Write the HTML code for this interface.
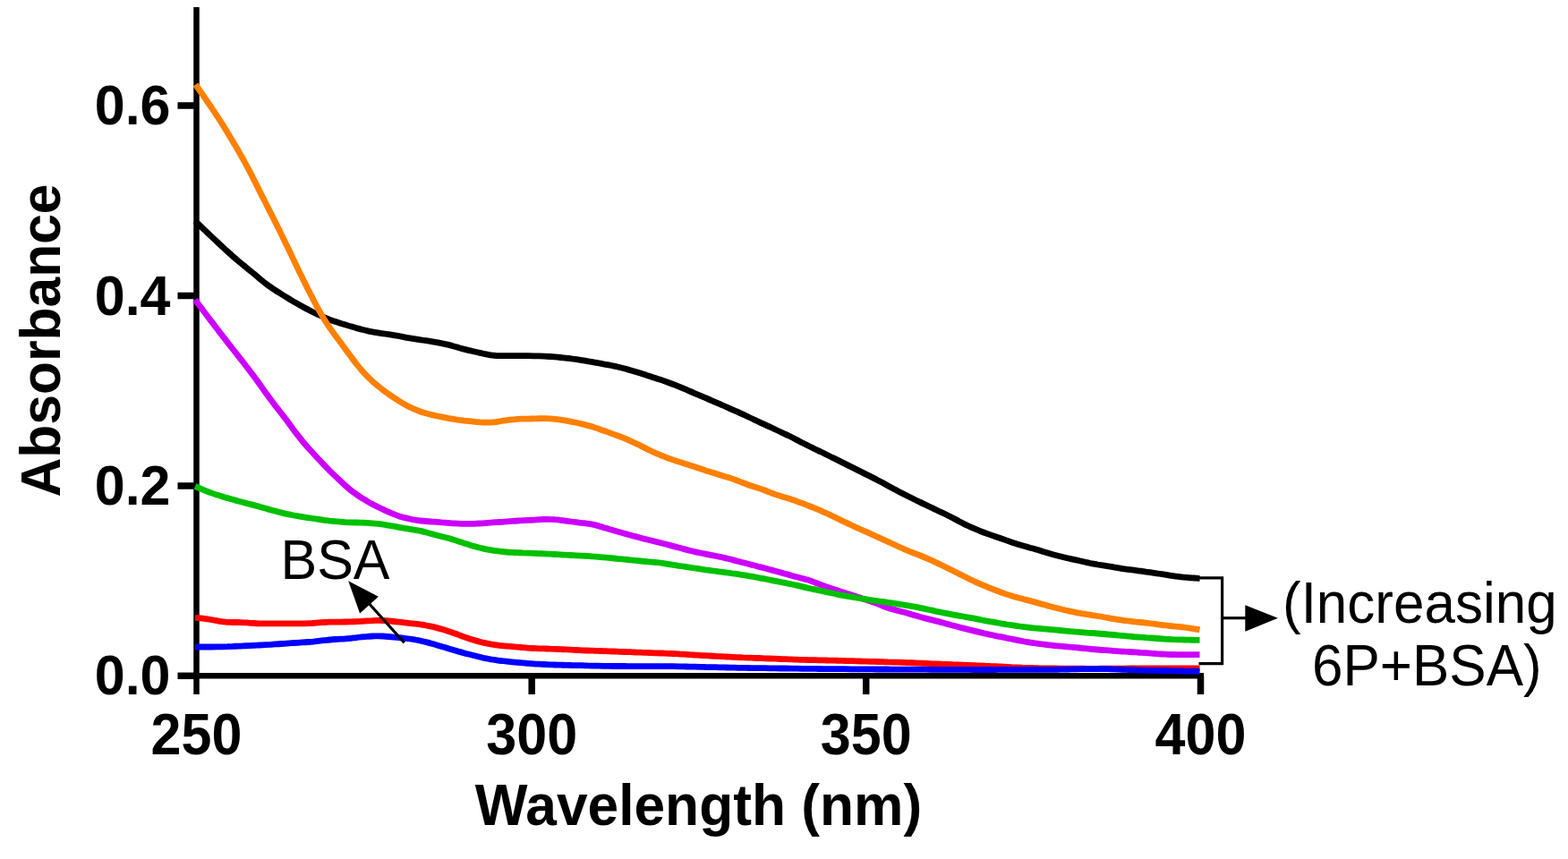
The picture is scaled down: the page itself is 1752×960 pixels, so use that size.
<!DOCTYPE html>
<html><head><meta charset="utf-8"><title>Absorbance spectra</title>
<style>
html,body{margin:0;padding:0;background:#fff;}
body{width:1752px;height:960px;overflow:hidden;}
svg{display:block;}
.tl{font-family:"Liberation Sans",Arial,sans-serif;font-weight:bold;font-size:61px;fill:#000;}
.ax{font-family:"Liberation Sans",Arial,sans-serif;font-weight:bold;font-size:61px;fill:#000;}
.rg{font-family:"Liberation Sans",Arial,sans-serif;font-weight:normal;font-size:60px;fill:#000;}
</style></head>
<body>
<svg width="1752" height="960" viewBox="0 0 1752 960">
<rect width="1752" height="960" fill="#fff"/>
<line x1="219.5" y1="8" x2="219.5" y2="776" stroke="#000" stroke-width="6.5"/>
<line x1="216.25" y1="755.3" x2="1345" y2="755.3" stroke="#000" stroke-width="6.5"/>
<line x1="198.5" y1="755.3" x2="219.5" y2="755.3" stroke="#000" stroke-width="7.5"/>
<text transform="translate(190.5,776.3) scale(1,1.045)" class="tl" text-anchor="end">0.0</text>
<line x1="198.5" y1="543.0" x2="219.5" y2="543.0" stroke="#000" stroke-width="7.5"/>
<text transform="translate(190.5,564.0) scale(1,1.045)" class="tl" text-anchor="end">0.2</text>
<line x1="198.5" y1="330.5" x2="219.5" y2="330.5" stroke="#000" stroke-width="7.5"/>
<text transform="translate(190.5,351.5) scale(1,1.045)" class="tl" text-anchor="end">0.4</text>
<line x1="198.5" y1="118.0" x2="219.5" y2="118.0" stroke="#000" stroke-width="7.5"/>
<text transform="translate(190.5,139.0) scale(1,1.045)" class="tl" text-anchor="end">0.6</text>
<text transform="translate(219.5,843.3) scale(1,1.062)" class="tl" text-anchor="middle">250</text>
<line x1="594.2" y1="755.3" x2="594.2" y2="776" stroke="#000" stroke-width="7.5"/>
<text transform="translate(594.2,843.3) scale(1,1.062)" class="tl" text-anchor="middle">300</text>
<line x1="967.7" y1="755.3" x2="967.7" y2="776" stroke="#000" stroke-width="7.5"/>
<text transform="translate(967.7,843.3) scale(1,1.062)" class="tl" text-anchor="middle">350</text>
<line x1="1341.5" y1="755.3" x2="1341.5" y2="776" stroke="#000" stroke-width="7.5"/>
<text transform="translate(1341.5,843.3) scale(1,1.062)" class="tl" text-anchor="middle">400</text>
<path d="M218.0,690.3 C219.0,690.4 222.0,690.7 224.0,690.9 C226.0,691.2 228.0,691.4 230.0,691.6 C232.0,691.9 234.0,692.2 236.0,692.5 C238.0,692.9 240.0,693.3 242.0,693.6 C244.0,694.0 246.0,694.4 248.0,694.7 C250.0,694.9 252.0,695.2 254.0,695.3 C256.0,695.4 258.0,695.4 260.0,695.5 C262.0,695.5 264.0,695.5 266.0,695.5 C268.0,695.6 270.0,695.7 272.0,695.8 C274.0,695.8 276.0,696.0 278.0,696.1 C280.0,696.3 282.0,696.4 284.0,696.5 C286.0,696.7 288.0,696.8 290.0,696.8 C292.0,696.9 294.0,696.9 296.0,696.9 C298.0,696.9 300.0,696.9 302.0,696.9 C304.0,696.9 306.0,696.9 308.0,696.9 C310.0,696.9 312.0,696.9 314.0,696.9 C316.0,696.9 318.0,696.9 320.0,696.9 C322.0,696.9 324.0,696.9 326.0,696.9 C328.0,696.9 330.0,696.9 332.1,696.9 C334.1,696.9 336.1,696.9 338.1,696.9 C340.1,696.8 342.1,696.8 344.1,696.7 C346.1,696.6 348.1,696.5 350.1,696.3 C352.1,696.2 354.1,696.0 356.1,695.9 C358.1,695.8 360.1,695.6 362.1,695.5 C364.1,695.4 366.1,695.3 368.1,695.2 C370.1,695.2 372.1,695.2 374.1,695.1 C376.1,695.1 378.1,695.1 380.1,695.1 C382.1,695.1 384.1,695.1 386.1,695.0 C388.1,695.0 390.1,695.0 392.1,694.9 C394.1,694.8 396.1,694.7 398.1,694.6 C400.1,694.5 402.1,694.4 404.1,694.3 C406.1,694.2 408.1,694.0 410.1,693.9 C412.1,693.8 414.1,693.6 416.1,693.6 C418.1,693.5 420.1,693.4 422.1,693.4 C424.1,693.4 426.1,693.4 428.1,693.5 C430.1,693.6 432.1,693.7 434.1,693.9 C436.1,694.1 438.1,694.3 440.1,694.5 C442.1,694.7 444.1,695.0 446.1,695.2 C448.1,695.5 450.1,695.7 452.1,695.9 C454.1,696.2 456.1,696.4 458.1,696.6 C460.1,696.8 462.1,697.0 464.1,697.2 C466.1,697.4 468.1,697.7 470.1,698.0 C472.1,698.2 474.1,698.6 476.1,699.0 C478.1,699.4 480.1,699.8 482.1,700.2 C484.1,700.6 486.1,701.1 488.1,701.6 C490.1,702.1 492.1,702.7 494.1,703.3 C496.1,703.9 498.1,704.5 500.1,705.2 C502.1,705.8 504.1,706.5 506.1,707.2 C508.1,707.9 510.1,708.6 512.1,709.4 C514.1,710.1 516.1,710.9 518.1,711.6 C520.1,712.3 522.1,713.0 524.1,713.7 C526.1,714.4 528.1,715.0 530.1,715.6 C532.1,716.1 534.1,716.7 536.1,717.2 C538.1,717.7 540.1,718.3 542.1,718.7 C544.1,719.1 546.1,719.5 548.1,719.9 C550.1,720.2 552.1,720.5 554.1,720.8 C556.2,721.1 558.2,721.4 560.2,721.6 C562.2,721.8 564.2,722.0 566.2,722.2 C568.2,722.4 570.2,722.6 572.2,722.7 C574.2,722.9 576.2,723.0 578.2,723.2 C580.2,723.3 582.2,723.5 584.2,723.6 C586.2,723.8 588.2,723.9 590.2,724.1 C592.2,724.2 594.2,724.4 596.2,724.5 C598.2,724.6 600.2,724.7 602.2,724.8 C604.2,724.8 606.2,724.9 608.2,724.9 C610.2,725.0 612.2,725.0 614.2,725.1 C616.2,725.1 618.2,725.2 620.2,725.3 C622.2,725.4 624.2,725.5 626.2,725.6 C628.2,725.7 630.2,725.8 632.2,725.9 C634.2,726.0 636.2,726.1 638.2,726.2 C640.2,726.3 642.2,726.4 644.2,726.5 C646.2,726.6 648.2,726.7 650.2,726.8 C652.2,726.8 654.2,726.9 656.2,727.0 C658.2,727.1 660.2,727.1 662.2,727.2 C664.2,727.3 666.2,727.3 668.2,727.4 C670.2,727.5 672.2,727.5 674.2,727.6 C676.2,727.7 678.2,727.7 680.2,727.8 C682.2,727.9 684.2,728.0 686.2,728.0 C688.2,728.1 690.2,728.2 692.2,728.3 C694.2,728.3 696.2,728.4 698.2,728.5 C700.2,728.6 702.2,728.7 704.2,728.7 C706.2,728.8 708.2,728.9 710.2,729.0 C712.2,729.0 714.2,729.1 716.2,729.2 C718.2,729.3 720.2,729.3 722.2,729.4 C724.2,729.5 726.2,729.5 728.2,729.6 C730.2,729.7 732.2,729.8 734.2,729.8 C736.2,729.9 738.2,730.0 740.2,730.0 C742.2,730.1 744.2,730.2 746.2,730.3 C748.2,730.3 750.2,730.4 752.2,730.5 C754.2,730.6 756.2,730.7 758.2,730.8 C760.2,731.0 762.2,731.1 764.2,731.2 C766.2,731.3 768.2,731.5 770.2,731.6 C772.2,731.7 774.2,731.8 776.2,732.0 C778.2,732.1 780.3,732.2 782.3,732.3 C784.3,732.5 786.3,732.6 788.3,732.7 C790.3,732.8 792.3,732.9 794.3,733.0 C796.3,733.1 798.3,733.2 800.3,733.4 C802.3,733.5 804.3,733.6 806.3,733.7 C808.3,733.8 810.3,733.9 812.3,734.0 C814.3,734.1 816.3,734.2 818.3,734.3 C820.3,734.4 822.3,734.5 824.3,734.6 C826.3,734.7 828.3,734.8 830.3,734.9 C832.3,734.9 834.3,735.0 836.3,735.1 C838.3,735.2 840.3,735.2 842.3,735.3 C844.3,735.4 846.3,735.5 848.3,735.5 C850.3,735.6 852.3,735.7 854.3,735.8 C856.3,735.8 858.3,735.9 860.3,736.0 C862.3,736.1 864.3,736.2 866.3,736.2 C868.3,736.3 870.3,736.4 872.3,736.5 C874.3,736.5 876.3,736.6 878.3,736.7 C880.3,736.8 882.3,736.8 884.3,736.9 C886.3,737.0 888.3,737.1 890.3,737.1 C892.3,737.2 894.3,737.3 896.3,737.3 C898.3,737.4 900.3,737.4 902.3,737.5 C904.3,737.5 906.3,737.6 908.3,737.6 C910.3,737.7 912.3,737.7 914.3,737.8 C916.3,737.8 918.3,737.9 920.3,737.9 C922.3,738.0 924.3,738.0 926.3,738.1 C928.3,738.1 930.3,738.1 932.3,738.2 C934.3,738.2 936.3,738.3 938.3,738.3 C940.3,738.4 942.3,738.4 944.3,738.5 C946.3,738.5 948.3,738.6 950.3,738.6 C952.3,738.7 954.3,738.7 956.3,738.8 C958.3,738.8 960.3,738.9 962.3,739.0 C964.3,739.0 966.3,739.1 968.3,739.1 C970.3,739.2 972.3,739.3 974.3,739.3 C976.3,739.4 978.3,739.4 980.3,739.5 C982.3,739.6 984.3,739.6 986.3,739.7 C988.3,739.8 990.3,739.8 992.3,739.9 C994.3,739.9 996.3,740.0 998.3,740.1 C1000.3,740.1 1002.3,740.2 1004.4,740.2 C1006.4,740.3 1008.4,740.4 1010.4,740.4 C1012.4,740.5 1014.4,740.6 1016.4,740.6 C1018.4,740.7 1020.4,740.8 1022.4,740.9 C1024.4,741.0 1026.4,741.1 1028.4,741.1 C1030.4,741.2 1032.4,741.3 1034.4,741.4 C1036.4,741.5 1038.4,741.6 1040.4,741.7 C1042.4,741.7 1044.4,741.8 1046.4,741.9 C1048.4,742.0 1050.4,742.1 1052.4,742.2 C1054.4,742.2 1056.4,742.3 1058.4,742.4 C1060.4,742.5 1062.4,742.6 1064.4,742.7 C1066.4,742.7 1068.4,742.8 1070.4,742.9 C1072.4,743.0 1074.4,743.1 1076.4,743.2 C1078.4,743.3 1080.4,743.3 1082.4,743.4 C1084.4,743.5 1086.4,743.6 1088.4,743.7 C1090.4,743.8 1092.4,743.9 1094.4,743.9 C1096.4,744.0 1098.4,744.1 1100.4,744.2 C1102.4,744.3 1104.4,744.4 1106.4,744.5 C1108.4,744.5 1110.4,744.6 1112.4,744.7 C1114.4,744.8 1116.4,744.9 1118.4,745.0 C1120.4,745.1 1122.4,745.2 1124.4,745.3 C1126.4,745.4 1128.4,745.5 1130.4,745.6 C1132.4,745.6 1134.4,745.7 1136.4,745.8 C1138.4,745.9 1140.4,746.0 1142.4,746.1 C1144.4,746.1 1146.4,746.2 1148.4,746.3 C1150.4,746.3 1152.4,746.4 1154.4,746.5 C1156.4,746.5 1158.4,746.6 1160.4,746.7 C1162.4,746.7 1164.4,746.8 1166.4,746.9 C1168.4,746.9 1170.4,747.0 1172.4,747.0 C1174.4,747.0 1176.4,747.0 1178.4,747.0 C1180.4,747.1 1182.4,747.1 1184.4,747.1 C1186.4,747.1 1188.4,747.1 1190.4,747.1 C1192.4,747.1 1194.4,747.1 1196.4,747.2 C1198.4,747.2 1200.4,747.2 1202.4,747.2 C1204.4,747.2 1206.4,747.2 1208.4,747.2 C1210.4,747.2 1212.4,747.3 1214.4,747.3 C1216.4,747.3 1218.4,747.3 1220.4,747.3 C1222.4,747.3 1224.4,747.3 1226.4,747.3 C1228.5,747.3 1230.5,747.2 1232.5,747.2 C1234.5,747.2 1236.5,747.2 1238.5,747.2 C1240.5,747.2 1242.5,747.2 1244.5,747.2 C1246.5,747.1 1248.5,747.1 1250.5,747.1 C1252.5,747.1 1254.5,747.1 1256.5,747.1 C1258.5,747.1 1260.5,747.1 1262.5,747.0 C1264.5,747.0 1266.5,747.0 1268.5,747.0 C1270.5,747.0 1272.5,747.0 1274.5,747.0 C1276.5,747.0 1278.5,747.0 1280.5,747.0 C1282.5,747.0 1284.5,747.0 1286.5,747.0 C1288.5,746.9 1290.5,746.9 1292.5,746.9 C1294.5,746.9 1296.5,746.9 1298.5,746.9 C1300.5,746.9 1302.5,746.9 1304.5,746.9 C1306.5,746.9 1308.5,746.9 1310.5,746.9 C1312.5,746.9 1314.5,746.9 1316.5,746.9 C1318.5,746.9 1320.5,746.9 1322.5,746.9 C1324.5,746.8 1326.5,746.8 1328.5,746.8 C1330.5,746.8 1332.5,746.8 1334.5,746.8 C1336.5,746.8 1339.5,746.8 1340.5,746.8" fill="none" stroke="#ff0000" stroke-width="6.8" stroke-linejoin="round" stroke-linecap="butt"/>
<path d="M218.0,723.0 C219.0,723.0 222.0,723.0 224.0,723.0 C226.0,723.0 228.0,723.0 230.0,723.0 C232.0,723.0 234.0,723.0 236.0,723.0 C238.0,723.0 240.0,723.0 242.0,722.9 C244.0,722.9 246.0,722.8 248.0,722.8 C250.0,722.7 252.0,722.6 254.0,722.6 C256.0,722.5 258.0,722.4 260.0,722.4 C262.0,722.3 264.0,722.2 266.0,722.1 C268.0,722.1 270.0,722.0 272.0,721.9 C274.0,721.8 276.0,721.7 278.0,721.6 C280.0,721.5 282.0,721.4 284.0,721.3 C286.0,721.2 288.0,721.1 290.0,721.0 C292.0,720.9 294.0,720.8 296.0,720.7 C298.0,720.6 300.0,720.5 302.0,720.4 C304.0,720.2 306.0,720.1 308.0,719.9 C310.0,719.8 312.0,719.7 314.0,719.5 C316.0,719.4 318.0,719.3 320.0,719.1 C322.0,719.0 324.0,718.8 326.0,718.7 C328.0,718.6 330.0,718.4 332.1,718.3 C334.1,718.2 336.1,718.0 338.1,717.9 C340.1,717.8 342.1,717.7 344.1,717.5 C346.1,717.4 348.1,717.2 350.1,717.1 C352.1,716.9 354.1,716.7 356.1,716.4 C358.1,716.2 360.1,716.0 362.1,715.7 C364.1,715.5 366.1,715.2 368.1,715.0 C370.1,714.8 372.1,714.7 374.1,714.5 C376.1,714.4 378.1,714.3 380.1,714.2 C382.1,714.1 384.1,714.0 386.1,713.8 C388.1,713.7 390.1,713.5 392.1,713.3 C394.1,713.1 396.1,712.8 398.1,712.6 C400.1,712.3 402.1,712.1 404.1,711.9 C406.1,711.7 408.1,711.5 410.1,711.4 C412.1,711.2 414.1,711.1 416.1,711.0 C418.1,711.0 420.1,710.9 422.1,710.9 C424.1,710.9 426.1,710.9 428.1,711.0 C430.1,711.1 432.1,711.3 434.1,711.5 C436.1,711.7 438.1,711.9 440.1,712.1 C442.1,712.3 444.1,712.5 446.1,712.7 C448.1,712.9 450.1,713.1 452.1,713.3 C454.1,713.5 456.1,713.7 458.1,714.0 C460.1,714.3 462.1,714.6 464.1,715.0 C466.1,715.3 468.1,715.8 470.1,716.2 C472.1,716.7 474.1,717.2 476.1,717.6 C478.1,718.1 480.1,718.7 482.1,719.2 C484.1,719.8 486.1,720.3 488.1,720.9 C490.1,721.5 492.1,722.1 494.1,722.7 C496.1,723.3 498.1,723.9 500.1,724.5 C502.1,725.1 504.1,725.7 506.1,726.3 C508.1,726.9 510.1,727.5 512.1,728.1 C514.1,728.6 516.1,729.2 518.1,729.7 C520.1,730.3 522.1,730.8 524.1,731.3 C526.1,731.8 528.1,732.3 530.1,732.8 C532.1,733.3 534.1,733.8 536.1,734.3 C538.1,734.8 540.1,735.2 542.1,735.7 C544.1,736.1 546.1,736.4 548.1,736.8 C550.1,737.1 552.1,737.4 554.1,737.7 C556.2,738.0 558.2,738.3 560.2,738.5 C562.2,738.8 564.2,739.0 566.2,739.2 C568.2,739.5 570.2,739.6 572.2,739.8 C574.2,740.0 576.2,740.2 578.2,740.4 C580.2,740.6 582.2,740.8 584.2,740.9 C586.2,741.1 588.2,741.2 590.2,741.4 C592.2,741.5 594.2,741.7 596.2,741.8 C598.2,742.0 600.2,742.1 602.2,742.2 C604.2,742.3 606.2,742.4 608.2,742.5 C610.2,742.6 612.2,742.7 614.2,742.8 C616.2,742.9 618.2,742.9 620.2,743.0 C622.2,743.1 624.2,743.1 626.2,743.2 C628.2,743.2 630.2,743.3 632.2,743.3 C634.2,743.4 636.2,743.4 638.2,743.5 C640.2,743.5 642.2,743.6 644.2,743.6 C646.2,743.7 648.2,743.7 650.2,743.7 C652.2,743.8 654.2,743.8 656.2,743.9 C658.2,743.9 660.2,744.0 662.2,744.1 C664.2,744.1 666.2,744.2 668.2,744.2 C670.2,744.3 672.2,744.3 674.2,744.3 C676.2,744.4 678.2,744.4 680.2,744.4 C682.2,744.5 684.2,744.5 686.2,744.5 C688.2,744.5 690.2,744.5 692.2,744.5 C694.2,744.5 696.2,744.5 698.2,744.5 C700.2,744.5 702.2,744.6 704.2,744.6 C706.2,744.6 708.2,744.6 710.2,744.6 C712.2,744.6 714.2,744.6 716.2,744.6 C718.2,744.6 720.2,744.6 722.2,744.6 C724.2,744.6 726.2,744.6 728.2,744.6 C730.2,744.6 732.2,744.6 734.2,744.6 C736.2,744.7 738.2,744.7 740.2,744.7 C742.2,744.7 744.2,744.7 746.2,744.7 C748.2,744.7 750.2,744.7 752.2,744.7 C754.2,744.8 756.2,744.8 758.2,744.8 C760.2,744.9 762.2,744.9 764.2,744.9 C766.2,745.0 768.2,745.0 770.2,745.1 C772.2,745.1 774.2,745.2 776.2,745.2 C778.2,745.3 780.3,745.3 782.3,745.3 C784.3,745.4 786.3,745.4 788.3,745.5 C790.3,745.5 792.3,745.6 794.3,745.6 C796.3,745.6 798.3,745.7 800.3,745.7 C802.3,745.8 804.3,745.8 806.3,745.9 C808.3,745.9 810.3,746.0 812.3,746.0 C814.3,746.0 816.3,746.1 818.3,746.1 C820.3,746.2 822.3,746.2 824.3,746.3 C826.3,746.3 828.3,746.4 830.3,746.4 C832.3,746.4 834.3,746.5 836.3,746.5 C838.3,746.5 840.3,746.6 842.3,746.6 C844.3,746.6 846.3,746.6 848.3,746.7 C850.3,746.7 852.3,746.7 854.3,746.7 C856.3,746.8 858.3,746.8 860.3,746.8 C862.3,746.8 864.3,746.9 866.3,746.9 C868.3,746.9 870.3,746.9 872.3,747.0 C874.3,747.0 876.3,747.0 878.3,747.0 C880.3,747.1 882.3,747.1 884.3,747.1 C886.3,747.1 888.3,747.2 890.3,747.2 C892.3,747.2 894.3,747.2 896.3,747.3 C898.3,747.3 900.3,747.3 902.3,747.3 C904.3,747.4 906.3,747.4 908.3,747.4 C910.3,747.4 912.3,747.5 914.3,747.5 C916.3,747.5 918.3,747.5 920.3,747.6 C922.3,747.6 924.3,747.6 926.3,747.6 C928.3,747.6 930.3,747.6 932.3,747.7 C934.3,747.7 936.3,747.7 938.3,747.7 C940.3,747.7 942.3,747.7 944.3,747.7 C946.3,747.8 948.3,747.8 950.3,747.8 C952.3,747.8 954.3,747.8 956.3,747.8 C958.3,747.8 960.3,747.8 962.3,747.9 C964.3,747.9 966.3,747.9 968.3,747.9 C970.3,747.9 972.3,747.9 974.3,747.9 C976.3,748.0 978.3,748.0 980.3,748.0 C982.3,748.0 984.3,748.0 986.3,748.0 C988.3,748.0 990.3,748.0 992.3,748.0 C994.3,748.0 996.3,748.1 998.3,748.1 C1000.3,748.1 1002.3,748.1 1004.4,748.1 C1006.4,748.1 1008.4,748.1 1010.4,748.1 C1012.4,748.1 1014.4,748.1 1016.4,748.1 C1018.4,748.2 1020.4,748.2 1022.4,748.2 C1024.4,748.2 1026.4,748.2 1028.4,748.2 C1030.4,748.2 1032.4,748.2 1034.4,748.2 C1036.4,748.2 1038.4,748.2 1040.4,748.3 C1042.4,748.3 1044.4,748.3 1046.4,748.3 C1048.4,748.3 1050.4,748.3 1052.4,748.3 C1054.4,748.3 1056.4,748.3 1058.4,748.3 C1060.4,748.3 1062.4,748.4 1064.4,748.4 C1066.4,748.4 1068.4,748.4 1070.4,748.4 C1072.4,748.4 1074.4,748.4 1076.4,748.4 C1078.4,748.4 1080.4,748.4 1082.4,748.4 C1084.4,748.5 1086.4,748.5 1088.4,748.5 C1090.4,748.5 1092.4,748.5 1094.4,748.5 C1096.4,748.5 1098.4,748.5 1100.4,748.5 C1102.4,748.5 1104.4,748.5 1106.4,748.5 C1108.4,748.5 1110.4,748.5 1112.4,748.5 C1114.4,748.5 1116.4,748.4 1118.4,748.4 C1120.4,748.4 1122.4,748.4 1124.4,748.4 C1126.4,748.4 1128.4,748.4 1130.4,748.4 C1132.4,748.4 1134.4,748.4 1136.4,748.4 C1138.4,748.4 1140.4,748.4 1142.4,748.4 C1144.4,748.4 1146.4,748.4 1148.4,748.4 C1150.4,748.4 1152.4,748.4 1154.4,748.4 C1156.4,748.4 1158.4,748.4 1160.4,748.3 C1162.4,748.3 1164.4,748.3 1166.4,748.3 C1168.4,748.3 1170.4,748.3 1172.4,748.3 C1174.4,748.3 1176.4,748.3 1178.4,748.3 C1180.4,748.3 1182.4,748.2 1184.4,748.2 C1186.4,748.2 1188.4,748.1 1190.4,748.1 C1192.4,748.0 1194.4,748.0 1196.4,747.9 C1198.4,747.9 1200.4,747.8 1202.4,747.8 C1204.4,747.7 1206.4,747.7 1208.4,747.7 C1210.4,747.6 1212.4,747.6 1214.4,747.6 C1216.4,747.6 1218.4,747.6 1220.4,747.6 C1222.4,747.6 1224.4,747.6 1226.4,747.6 C1228.5,747.6 1230.5,747.7 1232.5,747.7 C1234.5,747.7 1236.5,747.7 1238.5,747.7 C1240.5,747.8 1242.5,747.8 1244.5,747.9 C1246.5,747.9 1248.5,748.0 1250.5,748.1 C1252.5,748.2 1254.5,748.3 1256.5,748.4 C1258.5,748.4 1260.5,748.5 1262.5,748.6 C1264.5,748.7 1266.5,748.8 1268.5,748.9 C1270.5,749.0 1272.5,749.0 1274.5,749.1 C1276.5,749.1 1278.5,749.2 1280.5,749.2 C1282.5,749.2 1284.5,749.3 1286.5,749.3 C1288.5,749.3 1290.5,749.4 1292.5,749.4 C1294.5,749.5 1296.5,749.5 1298.5,749.5 C1300.5,749.6 1302.5,749.6 1304.5,749.6 C1306.5,749.7 1308.5,749.7 1310.5,749.7 C1312.5,749.8 1314.5,749.8 1316.5,749.9 C1318.5,749.9 1320.5,749.9 1322.5,750.0 C1324.5,750.0 1326.5,750.0 1328.5,750.1 C1330.5,750.1 1332.5,750.2 1334.5,750.2 C1336.5,750.2 1339.5,750.3 1340.5,750.3" fill="none" stroke="#0000ff" stroke-width="6.8" stroke-linejoin="round" stroke-linecap="butt"/>
<path d="M218.0,335.0 C219.0,336.3 222.0,340.3 224.0,343.0 C226.0,345.7 228.0,348.4 230.0,351.0 C232.0,353.7 234.0,356.3 236.0,358.9 C238.0,361.5 240.0,364.2 242.0,366.8 C244.0,369.4 246.0,372.0 248.0,374.6 C250.0,377.2 252.0,379.7 254.0,382.3 C256.0,384.9 258.0,387.4 260.0,390.0 C262.0,392.5 264.0,395.0 266.0,397.6 C268.0,400.1 270.0,402.6 272.0,405.2 C274.0,407.8 276.0,410.4 278.0,413.0 C280.0,415.7 282.0,418.4 284.0,421.1 C286.0,423.8 288.0,426.5 290.0,429.3 C292.0,432.0 294.0,434.9 296.0,437.7 C298.0,440.4 300.0,443.3 302.0,446.0 C304.0,448.7 306.0,451.3 308.0,453.8 C310.0,456.4 312.0,458.9 314.0,461.5 C316.0,464.1 318.0,466.6 320.0,469.3 C322.0,472.0 324.0,474.8 326.0,477.5 C328.0,480.2 330.0,483.0 332.1,485.7 C334.1,488.3 336.1,490.8 338.1,493.2 C340.1,495.6 342.1,497.9 344.1,500.2 C346.1,502.4 348.1,504.6 350.1,506.8 C352.1,509.0 354.1,511.2 356.1,513.3 C358.1,515.5 360.1,517.6 362.1,519.7 C364.1,521.8 366.1,523.8 368.1,525.8 C370.1,527.8 372.1,529.7 374.1,531.6 C376.1,533.5 378.1,535.4 380.1,537.3 C382.1,539.2 384.1,541.1 386.1,542.9 C388.1,544.7 390.1,546.4 392.1,548.0 C394.1,549.5 396.1,551.0 398.1,552.4 C400.1,553.8 402.1,555.2 404.1,556.5 C406.1,557.7 408.1,559.0 410.1,560.1 C412.1,561.3 414.1,562.4 416.1,563.4 C418.1,564.5 420.1,565.5 422.1,566.5 C424.1,567.5 426.1,568.5 428.1,569.4 C430.1,570.4 432.1,571.4 434.1,572.2 C436.1,573.1 438.1,574.0 440.1,574.7 C442.1,575.5 444.1,576.2 446.1,576.9 C448.1,577.5 450.1,578.1 452.1,578.6 C454.1,579.1 456.1,579.6 458.1,580.0 C460.1,580.4 462.1,580.8 464.1,581.1 C466.1,581.5 468.1,581.8 470.1,582.0 C472.1,582.2 474.1,582.4 476.1,582.5 C478.1,582.7 480.1,582.8 482.1,583.0 C484.1,583.1 486.1,583.3 488.1,583.4 C490.1,583.6 492.1,583.7 494.1,583.9 C496.1,584.0 498.1,584.2 500.1,584.3 C502.1,584.5 504.1,584.6 506.1,584.8 C508.1,584.9 510.1,585.0 512.1,585.1 C514.1,585.2 516.1,585.3 518.1,585.3 C520.1,585.4 522.1,585.4 524.1,585.4 C526.1,585.4 528.1,585.4 530.1,585.3 C532.1,585.2 534.1,585.2 536.1,585.0 C538.1,584.9 540.1,584.8 542.1,584.6 C544.1,584.5 546.1,584.3 548.1,584.2 C550.1,584.1 552.1,583.9 554.1,583.7 C556.2,583.6 558.2,583.4 560.2,583.3 C562.2,583.1 564.2,583.0 566.2,582.8 C568.2,582.7 570.2,582.6 572.2,582.4 C574.2,582.3 576.2,582.2 578.2,582.0 C580.2,581.9 582.2,581.8 584.2,581.7 C586.2,581.6 588.2,581.5 590.2,581.4 C592.2,581.3 594.2,581.2 596.2,581.1 C598.2,581.0 600.2,580.9 602.2,580.7 C604.2,580.6 606.2,580.5 608.2,580.4 C610.2,580.4 612.2,580.3 614.2,580.4 C616.2,580.4 618.2,580.5 620.2,580.7 C622.2,580.8 624.2,581.0 626.2,581.3 C628.2,581.5 630.2,581.8 632.2,582.1 C634.2,582.4 636.2,582.7 638.2,583.0 C640.2,583.3 642.2,583.5 644.2,583.7 C646.2,584.0 648.2,584.1 650.2,584.4 C652.2,584.6 654.2,584.9 656.2,585.2 C658.2,585.5 660.2,585.8 662.2,586.2 C664.2,586.6 666.2,587.1 668.2,587.6 C670.2,588.1 672.2,588.8 674.2,589.4 C676.2,590.0 678.2,590.7 680.2,591.3 C682.2,591.9 684.2,592.5 686.2,593.0 C688.2,593.6 690.2,594.2 692.2,594.7 C694.2,595.3 696.2,595.8 698.2,596.4 C700.2,596.9 702.2,597.5 704.2,598.0 C706.2,598.6 708.2,599.1 710.2,599.6 C712.2,600.2 714.2,600.7 716.2,601.2 C718.2,601.8 720.2,602.3 722.2,602.8 C724.2,603.3 726.2,603.8 728.2,604.3 C730.2,604.8 732.2,605.3 734.2,605.8 C736.2,606.3 738.2,606.8 740.2,607.3 C742.2,607.8 744.2,608.3 746.2,608.8 C748.2,609.3 750.2,609.9 752.2,610.4 C754.2,610.9 756.2,611.4 758.2,612.0 C760.2,612.5 762.2,613.1 764.2,613.6 C766.2,614.1 768.2,614.7 770.2,615.2 C772.2,615.7 774.2,616.2 776.2,616.6 C778.2,617.1 780.3,617.5 782.3,617.9 C784.3,618.3 786.3,618.7 788.3,619.1 C790.3,619.5 792.3,619.9 794.3,620.3 C796.3,620.7 798.3,621.1 800.3,621.5 C802.3,621.9 804.3,622.3 806.3,622.7 C808.3,623.2 810.3,623.6 812.3,624.1 C814.3,624.5 816.3,625.1 818.3,625.6 C820.3,626.1 822.3,626.6 824.3,627.2 C826.3,627.7 828.3,628.3 830.3,628.8 C832.3,629.3 834.3,629.8 836.3,630.3 C838.3,630.9 840.3,631.3 842.3,631.8 C844.3,632.3 846.3,632.8 848.3,633.4 C850.3,633.9 852.3,634.4 854.3,634.9 C856.3,635.5 858.3,636.0 860.3,636.6 C862.3,637.1 864.3,637.7 866.3,638.2 C868.3,638.8 870.3,639.3 872.3,639.9 C874.3,640.4 876.3,641.0 878.3,641.5 C880.3,642.1 882.3,642.6 884.3,643.2 C886.3,643.7 888.3,644.2 890.3,644.8 C892.3,645.3 894.3,645.8 896.3,646.4 C898.3,647.0 900.3,647.5 902.3,648.1 C904.3,648.7 906.3,649.4 908.3,650.1 C910.3,650.8 912.3,651.6 914.3,652.3 C916.3,653.1 918.3,653.9 920.3,654.6 C922.3,655.4 924.3,656.1 926.3,656.8 C928.3,657.5 930.3,658.2 932.3,658.8 C934.3,659.5 936.3,660.1 938.3,660.7 C940.3,661.3 942.3,662.0 944.3,662.6 C946.3,663.3 948.3,663.9 950.3,664.5 C952.3,665.2 954.3,665.8 956.3,666.5 C958.3,667.2 960.3,667.8 962.3,668.5 C964.3,669.2 966.3,669.8 968.3,670.5 C970.3,671.2 972.3,671.8 974.3,672.5 C976.3,673.2 978.3,673.9 980.3,674.7 C982.3,675.5 984.3,676.4 986.3,677.2 C988.3,677.9 990.3,678.7 992.3,679.4 C994.3,680.0 996.3,680.6 998.3,681.1 C1000.3,681.7 1002.3,682.1 1004.4,682.7 C1006.4,683.2 1008.4,683.7 1010.4,684.3 C1012.4,684.9 1014.4,685.5 1016.4,686.1 C1018.4,686.6 1020.4,687.3 1022.4,687.8 C1024.4,688.4 1026.4,689.0 1028.4,689.5 C1030.4,690.1 1032.4,690.6 1034.4,691.1 C1036.4,691.6 1038.4,692.1 1040.4,692.6 C1042.4,693.1 1044.4,693.6 1046.4,694.1 C1048.4,694.6 1050.4,695.2 1052.4,695.7 C1054.4,696.3 1056.4,696.8 1058.4,697.4 C1060.4,697.9 1062.4,698.5 1064.4,699.0 C1066.4,699.5 1068.4,700.0 1070.4,700.5 C1072.4,701.1 1074.4,701.6 1076.4,702.1 C1078.4,702.6 1080.4,703.1 1082.4,703.6 C1084.4,704.1 1086.4,704.6 1088.4,705.1 C1090.4,705.6 1092.4,706.1 1094.4,706.6 C1096.4,707.1 1098.4,707.6 1100.4,708.0 C1102.4,708.5 1104.4,708.9 1106.4,709.3 C1108.4,709.8 1110.4,710.2 1112.4,710.6 C1114.4,711.0 1116.4,711.4 1118.4,711.7 C1120.4,712.1 1122.4,712.5 1124.4,713.0 C1126.4,713.4 1128.4,713.8 1130.4,714.2 C1132.4,714.6 1134.4,715.0 1136.4,715.4 C1138.4,715.8 1140.4,716.2 1142.4,716.5 C1144.4,716.9 1146.4,717.3 1148.4,717.6 C1150.4,718.0 1152.4,718.3 1154.4,718.5 C1156.4,718.8 1158.4,719.1 1160.4,719.4 C1162.4,719.6 1164.4,719.9 1166.4,720.1 C1168.4,720.4 1170.4,720.7 1172.4,720.9 C1174.4,721.2 1176.4,721.4 1178.4,721.6 C1180.4,721.8 1182.4,722.0 1184.4,722.2 C1186.4,722.4 1188.4,722.5 1190.4,722.7 C1192.4,722.9 1194.4,723.0 1196.4,723.2 C1198.4,723.3 1200.4,723.5 1202.4,723.7 C1204.4,723.9 1206.4,724.1 1208.4,724.3 C1210.4,724.5 1212.4,724.7 1214.4,724.9 C1216.4,725.1 1218.4,725.3 1220.4,725.5 C1222.4,725.6 1224.4,725.8 1226.4,726.0 C1228.5,726.2 1230.5,726.3 1232.5,726.5 C1234.5,726.6 1236.5,726.8 1238.5,726.9 C1240.5,727.1 1242.5,727.2 1244.5,727.4 C1246.5,727.5 1248.5,727.7 1250.5,727.8 C1252.5,727.9 1254.5,728.0 1256.5,728.2 C1258.5,728.3 1260.5,728.4 1262.5,728.5 C1264.5,728.7 1266.5,728.8 1268.5,728.9 C1270.5,729.0 1272.5,729.1 1274.5,729.3 C1276.5,729.4 1278.5,729.5 1280.5,729.6 C1282.5,729.8 1284.5,729.9 1286.5,730.1 C1288.5,730.2 1290.5,730.4 1292.5,730.6 C1294.5,730.7 1296.5,730.9 1298.5,731.0 C1300.5,731.1 1302.5,731.2 1304.5,731.3 C1306.5,731.4 1308.5,731.5 1310.5,731.5 C1312.5,731.6 1314.5,731.6 1316.5,731.6 C1318.5,731.6 1320.5,731.6 1322.5,731.6 C1324.5,731.6 1326.5,731.6 1328.5,731.6 C1330.5,731.6 1332.5,731.6 1334.5,731.6 C1336.5,731.6 1339.5,731.6 1340.5,731.6" fill="none" stroke="#cc00ff" stroke-width="6.8" stroke-linejoin="round" stroke-linecap="butt"/>
<path d="M218.0,543.5 C219.0,543.9 222.0,545.2 224.0,546.1 C226.0,546.9 228.0,547.8 230.0,548.6 C232.0,549.4 234.0,550.2 236.0,550.9 C238.0,551.6 240.0,552.3 242.0,552.9 C244.0,553.6 246.0,554.2 248.0,554.8 C250.0,555.5 252.0,556.1 254.0,556.6 C256.0,557.2 258.0,557.8 260.0,558.3 C262.0,558.9 264.0,559.4 266.0,560.0 C268.0,560.5 270.0,561.0 272.0,561.5 C274.0,562.1 276.0,562.6 278.0,563.1 C280.0,563.6 282.0,564.1 284.0,564.6 C286.0,565.1 288.0,565.7 290.0,566.3 C292.0,566.8 294.0,567.4 296.0,568.0 C298.0,568.6 300.0,569.1 302.0,569.7 C304.0,570.3 306.0,570.8 308.0,571.3 C310.0,571.9 312.0,572.4 314.0,572.9 C316.0,573.4 318.0,573.8 320.0,574.3 C322.0,574.7 324.0,575.1 326.0,575.5 C328.0,575.9 330.0,576.3 332.1,576.6 C334.1,577.0 336.1,577.3 338.1,577.6 C340.1,578.0 342.1,578.3 344.1,578.6 C346.1,578.9 348.1,579.2 350.1,579.5 C352.1,579.8 354.1,580.1 356.1,580.4 C358.1,580.7 360.1,581.0 362.1,581.3 C364.1,581.6 366.1,581.8 368.1,582.1 C370.1,582.3 372.1,582.5 374.1,582.7 C376.1,582.9 378.1,583.1 380.1,583.2 C382.1,583.4 384.1,583.5 386.1,583.7 C388.1,583.8 390.1,583.9 392.1,583.9 C394.1,584.0 396.1,584.0 398.1,584.0 C400.1,584.0 402.1,584.0 404.1,584.1 C406.1,584.2 408.1,584.3 410.1,584.4 C412.1,584.5 414.1,584.7 416.1,584.8 C418.1,585.0 420.1,585.2 422.1,585.4 C424.1,585.6 426.1,585.9 428.1,586.2 C430.1,586.4 432.1,586.8 434.1,587.1 C436.1,587.4 438.1,587.8 440.1,588.2 C442.1,588.5 444.1,588.9 446.1,589.3 C448.1,589.7 450.1,590.0 452.1,590.4 C454.1,590.7 456.1,591.0 458.1,591.4 C460.1,591.7 462.1,592.0 464.1,592.3 C466.1,592.7 468.1,593.0 470.1,593.4 C472.1,593.9 474.1,594.4 476.1,595.0 C478.1,595.5 480.1,596.1 482.1,596.6 C484.1,597.2 486.1,597.7 488.1,598.2 C490.1,598.7 492.1,599.2 494.1,599.7 C496.1,600.2 498.1,600.7 500.1,601.2 C502.1,601.8 504.1,602.3 506.1,603.0 C508.1,603.6 510.1,604.2 512.1,604.9 C514.1,605.5 516.1,606.2 518.1,606.9 C520.1,607.5 522.1,608.2 524.1,608.8 C526.1,609.4 528.1,610.1 530.1,610.6 C532.1,611.2 534.1,611.7 536.1,612.2 C538.1,612.7 540.1,613.1 542.1,613.6 C544.1,614.0 546.1,614.3 548.1,614.6 C550.1,615.0 552.1,615.3 554.1,615.6 C556.2,615.9 558.2,616.2 560.2,616.4 C562.2,616.6 564.2,616.8 566.2,617.0 C568.2,617.2 570.2,617.3 572.2,617.4 C574.2,617.5 576.2,617.5 578.2,617.6 C580.2,617.7 582.2,617.8 584.2,617.9 C586.2,617.9 588.2,618.0 590.2,618.1 C592.2,618.2 594.2,618.2 596.2,618.3 C598.2,618.4 600.2,618.5 602.2,618.6 C604.2,618.7 606.2,618.8 608.2,618.9 C610.2,619.0 612.2,619.1 614.2,619.2 C616.2,619.3 618.2,619.4 620.2,619.5 C622.2,619.6 624.2,619.7 626.2,619.8 C628.2,619.9 630.2,620.0 632.2,620.2 C634.2,620.3 636.2,620.4 638.2,620.5 C640.2,620.6 642.2,620.7 644.2,620.8 C646.2,620.9 648.2,621.0 650.2,621.1 C652.2,621.2 654.2,621.3 656.2,621.4 C658.2,621.6 660.2,621.7 662.2,621.9 C664.2,622.0 666.2,622.1 668.2,622.3 C670.2,622.5 672.2,622.6 674.2,622.8 C676.2,623.0 678.2,623.2 680.2,623.4 C682.2,623.6 684.2,623.8 686.2,624.0 C688.2,624.2 690.2,624.5 692.2,624.7 C694.2,624.9 696.2,625.0 698.2,625.2 C700.2,625.4 702.2,625.6 704.2,625.8 C706.2,626.0 708.2,626.2 710.2,626.4 C712.2,626.6 714.2,626.8 716.2,627.0 C718.2,627.2 720.2,627.4 722.2,627.6 C724.2,627.8 726.2,628.0 728.2,628.2 C730.2,628.4 732.2,628.5 734.2,628.7 C736.2,628.9 738.2,629.1 740.2,629.4 C742.2,629.7 744.2,630.0 746.2,630.3 C748.2,630.6 750.2,631.0 752.2,631.3 C754.2,631.6 756.2,631.9 758.2,632.3 C760.2,632.6 762.2,632.9 764.2,633.2 C766.2,633.5 768.2,633.8 770.2,634.1 C772.2,634.4 774.2,634.7 776.2,635.0 C778.2,635.3 780.3,635.6 782.3,635.9 C784.3,636.2 786.3,636.5 788.3,636.8 C790.3,637.0 792.3,637.3 794.3,637.6 C796.3,637.9 798.3,638.1 800.3,638.4 C802.3,638.7 804.3,638.9 806.3,639.2 C808.3,639.5 810.3,639.7 812.3,640.0 C814.3,640.3 816.3,640.6 818.3,640.9 C820.3,641.1 822.3,641.4 824.3,641.7 C826.3,642.1 828.3,642.4 830.3,642.7 C832.3,643.0 834.3,643.3 836.3,643.7 C838.3,644.0 840.3,644.4 842.3,644.7 C844.3,645.1 846.3,645.4 848.3,645.8 C850.3,646.1 852.3,646.5 854.3,646.9 C856.3,647.3 858.3,647.7 860.3,648.1 C862.3,648.5 864.3,648.9 866.3,649.3 C868.3,649.7 870.3,650.1 872.3,650.5 C874.3,650.9 876.3,651.3 878.3,651.7 C880.3,652.1 882.3,652.4 884.3,652.9 C886.3,653.3 888.3,653.7 890.3,654.1 C892.3,654.6 894.3,655.1 896.3,655.6 C898.3,656.1 900.3,656.6 902.3,657.1 C904.3,657.5 906.3,658.0 908.3,658.4 C910.3,658.9 912.3,659.3 914.3,659.7 C916.3,660.2 918.3,660.6 920.3,661.0 C922.3,661.4 924.3,661.8 926.3,662.2 C928.3,662.7 930.3,663.1 932.3,663.5 C934.3,663.9 936.3,664.4 938.3,664.8 C940.3,665.2 942.3,665.5 944.3,665.9 C946.3,666.3 948.3,666.6 950.3,666.9 C952.3,667.3 954.3,667.6 956.3,668.0 C958.3,668.3 960.3,668.6 962.3,669.0 C964.3,669.3 966.3,669.6 968.3,669.9 C970.3,670.2 972.3,670.5 974.3,670.8 C976.3,671.1 978.3,671.4 980.3,671.6 C982.3,671.9 984.3,672.1 986.3,672.4 C988.3,672.7 990.3,673.0 992.3,673.3 C994.3,673.5 996.3,673.9 998.3,674.2 C1000.3,674.5 1002.3,674.8 1004.4,675.1 C1006.4,675.4 1008.4,675.8 1010.4,676.1 C1012.4,676.4 1014.4,676.8 1016.4,677.1 C1018.4,677.4 1020.4,677.8 1022.4,678.1 C1024.4,678.5 1026.4,678.9 1028.4,679.3 C1030.4,679.7 1032.4,680.1 1034.4,680.6 C1036.4,681.0 1038.4,681.5 1040.4,681.9 C1042.4,682.4 1044.4,682.8 1046.4,683.3 C1048.4,683.7 1050.4,684.1 1052.4,684.5 C1054.4,684.9 1056.4,685.3 1058.4,685.7 C1060.4,686.1 1062.4,686.5 1064.4,686.8 C1066.4,687.2 1068.4,687.6 1070.4,687.9 C1072.4,688.3 1074.4,688.7 1076.4,689.0 C1078.4,689.4 1080.4,689.7 1082.4,690.1 C1084.4,690.5 1086.4,690.8 1088.4,691.2 C1090.4,691.6 1092.4,692.0 1094.4,692.4 C1096.4,692.8 1098.4,693.2 1100.4,693.6 C1102.4,693.9 1104.4,694.3 1106.4,694.7 C1108.4,695.0 1110.4,695.4 1112.4,695.7 C1114.4,696.1 1116.4,696.4 1118.4,696.8 C1120.4,697.1 1122.4,697.4 1124.4,697.8 C1126.4,698.1 1128.4,698.4 1130.4,698.7 C1132.4,699.0 1134.4,699.3 1136.4,699.6 C1138.4,699.9 1140.4,700.1 1142.4,700.4 C1144.4,700.7 1146.4,701.0 1148.4,701.2 C1150.4,701.4 1152.4,701.6 1154.4,701.8 C1156.4,702.0 1158.4,702.2 1160.4,702.3 C1162.4,702.5 1164.4,702.7 1166.4,702.8 C1168.4,703.0 1170.4,703.2 1172.4,703.4 C1174.4,703.5 1176.4,703.7 1178.4,703.9 C1180.4,704.1 1182.4,704.3 1184.4,704.5 C1186.4,704.7 1188.4,704.9 1190.4,705.1 C1192.4,705.3 1194.4,705.5 1196.4,705.7 C1198.4,705.8 1200.4,706.0 1202.4,706.2 C1204.4,706.3 1206.4,706.5 1208.4,706.6 C1210.4,706.8 1212.4,706.9 1214.4,707.1 C1216.4,707.2 1218.4,707.4 1220.4,707.5 C1222.4,707.7 1224.4,707.9 1226.4,708.0 C1228.5,708.2 1230.5,708.3 1232.5,708.5 C1234.5,708.7 1236.5,708.8 1238.5,709.0 C1240.5,709.1 1242.5,709.3 1244.5,709.5 C1246.5,709.7 1248.5,709.9 1250.5,710.1 C1252.5,710.2 1254.5,710.4 1256.5,710.6 C1258.5,710.8 1260.5,711.1 1262.5,711.2 C1264.5,711.4 1266.5,711.6 1268.5,711.8 C1270.5,711.9 1272.5,712.1 1274.5,712.2 C1276.5,712.3 1278.5,712.4 1280.5,712.6 C1282.5,712.7 1284.5,712.9 1286.5,713.0 C1288.5,713.2 1290.5,713.4 1292.5,713.5 C1294.5,713.7 1296.5,713.9 1298.5,714.0 C1300.5,714.1 1302.5,714.3 1304.5,714.4 C1306.5,714.5 1308.5,714.6 1310.5,714.7 C1312.5,714.7 1314.5,714.8 1316.5,714.9 C1318.5,714.9 1320.5,715.0 1322.5,715.0 C1324.5,715.1 1326.5,715.1 1328.5,715.2 C1330.5,715.2 1332.5,715.3 1334.5,715.3 C1336.5,715.3 1339.5,715.4 1340.5,715.4" fill="none" stroke="#00c000" stroke-width="6.8" stroke-linejoin="round" stroke-linecap="butt"/>
<path d="M218.0,247.0 C219.0,247.9 222.0,250.8 224.0,252.7 C226.0,254.6 228.0,256.5 230.0,258.4 C232.0,260.3 234.0,262.2 236.0,264.1 C238.0,266.0 240.0,267.9 242.0,269.8 C244.0,271.7 246.0,273.6 248.0,275.4 C250.0,277.3 252.0,279.1 254.0,280.9 C256.0,282.7 258.0,284.5 260.0,286.3 C262.0,288.0 264.0,289.8 266.0,291.5 C268.0,293.2 270.0,294.8 272.0,296.4 C274.0,298.1 276.0,299.6 278.0,301.3 C280.0,302.9 282.0,304.6 284.0,306.2 C286.0,307.9 288.0,309.6 290.0,311.3 C292.0,312.9 294.0,314.6 296.0,316.2 C298.0,317.7 300.0,319.2 302.0,320.6 C304.0,322.0 306.0,323.3 308.0,324.6 C310.0,326.0 312.0,327.2 314.0,328.5 C316.0,329.8 318.0,331.0 320.0,332.2 C322.0,333.4 324.0,334.6 326.0,335.8 C328.0,337.0 330.0,338.2 332.1,339.3 C334.1,340.4 336.1,341.6 338.1,342.7 C340.1,343.8 342.1,344.9 344.1,345.9 C346.1,347.0 348.1,348.0 350.1,349.0 C352.1,350.0 354.1,350.9 356.1,351.8 C358.1,352.8 360.1,353.7 362.1,354.6 C364.1,355.4 366.1,356.3 368.1,357.1 C370.1,357.9 372.1,358.7 374.1,359.3 C376.1,360.0 378.1,360.6 380.1,361.2 C382.1,361.8 384.1,362.4 386.1,363.0 C388.1,363.6 390.1,364.3 392.1,364.8 C394.1,365.4 396.1,366.0 398.1,366.6 C400.1,367.1 402.1,367.7 404.1,368.2 C406.1,368.7 408.1,369.2 410.1,369.6 C412.1,370.1 414.1,370.5 416.1,370.8 C418.1,371.2 420.1,371.5 422.1,371.8 C424.1,372.2 426.1,372.5 428.1,372.8 C430.1,373.1 432.1,373.4 434.1,373.7 C436.1,374.0 438.1,374.3 440.1,374.6 C442.1,375.0 444.1,375.3 446.1,375.7 C448.1,376.0 450.1,376.4 452.1,376.8 C454.1,377.2 456.1,377.6 458.1,377.9 C460.1,378.3 462.1,378.6 464.1,378.9 C466.1,379.2 468.1,379.5 470.1,379.8 C472.1,380.1 474.1,380.4 476.1,380.7 C478.1,381.0 480.1,381.3 482.1,381.6 C484.1,382.0 486.1,382.3 488.1,382.6 C490.1,383.0 492.1,383.4 494.1,383.8 C496.1,384.2 498.1,384.6 500.1,385.1 C502.1,385.6 504.1,386.2 506.1,386.7 C508.1,387.3 510.1,387.9 512.1,388.4 C514.1,389.0 516.1,389.6 518.1,390.1 C520.1,390.6 522.1,391.1 524.1,391.6 C526.1,392.1 528.1,392.5 530.1,393.0 C532.1,393.5 534.1,394.0 536.1,394.4 C538.1,394.8 540.1,395.3 542.1,395.7 C544.1,396.1 546.1,396.5 548.1,396.8 C550.1,397.1 552.1,397.3 554.1,397.5 C556.2,397.6 558.2,397.6 560.2,397.7 C562.2,397.7 564.2,397.7 566.2,397.7 C568.2,397.7 570.2,397.7 572.2,397.7 C574.2,397.7 576.2,397.7 578.2,397.7 C580.2,397.7 582.2,397.7 584.2,397.7 C586.2,397.7 588.2,397.7 590.2,397.7 C592.2,397.7 594.2,397.7 596.2,397.8 C598.2,397.8 600.2,397.9 602.2,397.9 C604.2,398.0 606.2,398.1 608.2,398.2 C610.2,398.3 612.2,398.4 614.2,398.5 C616.2,398.6 618.2,398.8 620.2,398.9 C622.2,399.1 624.2,399.3 626.2,399.5 C628.2,399.7 630.2,399.9 632.2,400.1 C634.2,400.3 636.2,400.6 638.2,400.8 C640.2,401.1 642.2,401.4 644.2,401.7 C646.2,402.0 648.2,402.3 650.2,402.6 C652.2,402.9 654.2,403.2 656.2,403.6 C658.2,403.9 660.2,404.3 662.2,404.6 C664.2,404.9 666.2,405.3 668.2,405.7 C670.2,406.0 672.2,406.4 674.2,406.8 C676.2,407.1 678.2,407.5 680.2,407.9 C682.2,408.3 684.2,408.7 686.2,409.1 C688.2,409.6 690.2,410.0 692.2,410.5 C694.2,411.0 696.2,411.5 698.2,412.0 C700.2,412.6 702.2,413.1 704.2,413.7 C706.2,414.3 708.2,414.9 710.2,415.5 C712.2,416.1 714.2,416.7 716.2,417.3 C718.2,418.0 720.2,418.6 722.2,419.3 C724.2,419.9 726.2,420.6 728.2,421.2 C730.2,421.9 732.2,422.5 734.2,423.2 C736.2,423.8 738.2,424.4 740.2,425.1 C742.2,425.8 744.2,426.5 746.2,427.2 C748.2,427.9 750.2,428.7 752.2,429.5 C754.2,430.2 756.2,431.0 758.2,431.9 C760.2,432.7 762.2,433.5 764.2,434.4 C766.2,435.2 768.2,436.1 770.2,437.0 C772.2,437.8 774.2,438.7 776.2,439.6 C778.2,440.4 780.3,441.3 782.3,442.1 C784.3,443.0 786.3,443.9 788.3,444.7 C790.3,445.6 792.3,446.4 794.3,447.3 C796.3,448.2 798.3,449.0 800.3,449.9 C802.3,450.8 804.3,451.7 806.3,452.5 C808.3,453.4 810.3,454.3 812.3,455.1 C814.3,456.0 816.3,456.9 818.3,457.8 C820.3,458.7 822.3,459.5 824.3,460.4 C826.3,461.4 828.3,462.3 830.3,463.2 C832.3,464.1 834.3,465.0 836.3,466.0 C838.3,466.9 840.3,467.8 842.3,468.8 C844.3,469.7 846.3,470.7 848.3,471.6 C850.3,472.6 852.3,473.5 854.3,474.4 C856.3,475.4 858.3,476.3 860.3,477.2 C862.3,478.1 864.3,479.0 866.3,480.0 C868.3,480.9 870.3,481.8 872.3,482.8 C874.3,483.7 876.3,484.6 878.3,485.6 C880.3,486.6 882.3,487.5 884.3,488.5 C886.3,489.5 888.3,490.6 890.3,491.6 C892.3,492.7 894.3,493.7 896.3,494.8 C898.3,495.8 900.3,496.8 902.3,497.8 C904.3,498.8 906.3,499.8 908.3,500.7 C910.3,501.7 912.3,502.7 914.3,503.6 C916.3,504.6 918.3,505.5 920.3,506.5 C922.3,507.5 924.3,508.5 926.3,509.5 C928.3,510.4 930.3,511.4 932.3,512.4 C934.3,513.4 936.3,514.4 938.3,515.4 C940.3,516.4 942.3,517.4 944.3,518.4 C946.3,519.4 948.3,520.4 950.3,521.4 C952.3,522.4 954.3,523.4 956.3,524.4 C958.3,525.4 960.3,526.4 962.3,527.4 C964.3,528.4 966.3,529.4 968.3,530.4 C970.3,531.4 972.3,532.4 974.3,533.4 C976.3,534.4 978.3,535.4 980.3,536.5 C982.3,537.5 984.3,538.5 986.3,539.6 C988.3,540.7 990.3,541.8 992.3,542.9 C994.3,544.0 996.3,545.1 998.3,546.2 C1000.3,547.2 1002.3,548.3 1004.4,549.4 C1006.4,550.4 1008.4,551.4 1010.4,552.5 C1012.4,553.5 1014.4,554.5 1016.4,555.5 C1018.4,556.5 1020.4,557.5 1022.4,558.5 C1024.4,559.4 1026.4,560.4 1028.4,561.4 C1030.4,562.4 1032.4,563.3 1034.4,564.3 C1036.4,565.3 1038.4,566.2 1040.4,567.2 C1042.4,568.1 1044.4,569.1 1046.4,570.0 C1048.4,571.0 1050.4,571.9 1052.4,572.8 C1054.4,573.8 1056.4,574.7 1058.4,575.7 C1060.4,576.7 1062.4,577.7 1064.4,578.7 C1066.4,579.8 1068.4,580.9 1070.4,581.9 C1072.4,583.0 1074.4,584.0 1076.4,585.1 C1078.4,586.1 1080.4,587.1 1082.4,588.0 C1084.4,589.0 1086.4,589.9 1088.4,590.7 C1090.4,591.6 1092.4,592.4 1094.4,593.2 C1096.4,593.9 1098.4,594.7 1100.4,595.5 C1102.4,596.2 1104.4,596.9 1106.4,597.6 C1108.4,598.3 1110.4,599.0 1112.4,599.7 C1114.4,600.4 1116.4,601.1 1118.4,601.8 C1120.4,602.5 1122.4,603.2 1124.4,603.9 C1126.4,604.6 1128.4,605.3 1130.4,606.0 C1132.4,606.6 1134.4,607.3 1136.4,607.9 C1138.4,608.5 1140.4,609.1 1142.4,609.7 C1144.4,610.3 1146.4,610.9 1148.4,611.4 C1150.4,612.0 1152.4,612.5 1154.4,613.0 C1156.4,613.6 1158.4,614.2 1160.4,614.8 C1162.4,615.5 1164.4,616.2 1166.4,616.8 C1168.4,617.4 1170.4,618.0 1172.4,618.6 C1174.4,619.2 1176.4,619.7 1178.4,620.2 C1180.4,620.7 1182.4,621.2 1184.4,621.7 C1186.4,622.2 1188.4,622.7 1190.4,623.2 C1192.4,623.7 1194.4,624.2 1196.4,624.6 C1198.4,625.1 1200.4,625.5 1202.4,625.9 C1204.4,626.3 1206.4,626.8 1208.4,627.2 C1210.4,627.7 1212.4,628.2 1214.4,628.6 C1216.4,629.0 1218.4,629.5 1220.4,629.9 C1222.4,630.3 1224.4,630.6 1226.4,631.0 C1228.5,631.3 1230.5,631.6 1232.5,631.9 C1234.5,632.2 1236.5,632.5 1238.5,632.8 C1240.5,633.1 1242.5,633.4 1244.5,633.8 C1246.5,634.1 1248.5,634.5 1250.5,634.8 C1252.5,635.2 1254.5,635.6 1256.5,635.9 C1258.5,636.2 1260.5,636.5 1262.5,636.7 C1264.5,637.0 1266.5,637.2 1268.5,637.4 C1270.5,637.7 1272.5,637.9 1274.5,638.2 C1276.5,638.5 1278.5,638.8 1280.5,639.1 C1282.5,639.3 1284.5,639.6 1286.5,639.9 C1288.5,640.2 1290.5,640.5 1292.5,640.8 C1294.5,641.1 1296.5,641.4 1298.5,641.7 C1300.5,642.0 1302.5,642.3 1304.5,642.6 C1306.5,643.0 1308.5,643.3 1310.5,643.6 C1312.5,643.9 1314.5,644.2 1316.5,644.4 C1318.5,644.7 1320.5,645.0 1322.5,645.2 C1324.5,645.4 1326.5,645.6 1328.5,645.7 C1330.5,645.9 1332.5,645.9 1334.5,646.0 C1336.5,646.1 1339.5,646.3 1340.5,646.3" fill="none" stroke="#000000" stroke-width="6.8" stroke-linejoin="round" stroke-linecap="butt"/>
<path d="M218.5,94.5 C219.5,95.9 222.5,100.2 224.5,103.1 C226.5,105.9 228.5,108.8 230.5,111.7 C232.5,114.6 234.5,117.6 236.5,120.6 C238.5,123.6 240.5,126.6 242.5,129.6 C244.5,132.7 246.5,135.8 248.5,138.9 C250.5,142.1 252.5,145.4 254.5,148.7 C256.5,152.0 258.5,155.3 260.5,158.7 C262.5,162.1 264.5,165.4 266.5,168.9 C268.5,172.4 270.5,175.9 272.5,179.5 C274.5,183.2 276.5,186.9 278.5,190.7 C280.5,194.5 282.5,198.5 284.5,202.4 C286.5,206.4 288.5,210.4 290.5,214.4 C292.5,218.4 294.5,222.3 296.5,226.3 C298.5,230.2 300.5,234.1 302.5,238.1 C304.5,242.0 306.5,246.0 308.5,250.0 C310.5,254.1 312.5,258.1 314.5,262.2 C316.5,266.3 318.5,270.4 320.5,274.5 C322.5,278.7 324.5,282.9 326.5,287.1 C328.5,291.3 330.5,295.5 332.5,299.6 C334.5,303.8 336.5,307.8 338.5,311.9 C340.5,315.9 342.5,319.9 344.5,323.9 C346.5,327.8 348.5,331.8 350.5,335.7 C352.5,339.5 354.5,343.3 356.5,346.9 C358.5,350.5 360.5,354.0 362.5,357.2 C364.5,360.5 366.5,363.5 368.5,366.4 C370.5,369.3 372.5,372.1 374.5,374.8 C376.5,377.5 378.5,380.1 380.5,382.8 C382.5,385.5 384.5,388.1 386.5,390.9 C388.5,393.6 390.5,396.4 392.5,399.1 C394.5,401.8 396.5,404.5 398.5,407.0 C400.5,409.6 402.5,411.9 404.5,414.2 C406.5,416.5 408.5,418.7 410.5,420.7 C412.5,422.8 414.5,424.7 416.5,426.5 C418.5,428.3 420.5,429.9 422.5,431.5 C424.5,433.2 426.5,434.7 428.5,436.2 C430.5,437.7 432.5,439.1 434.5,440.6 C436.5,442.0 438.5,443.4 440.5,444.7 C442.5,446.0 444.5,447.3 446.5,448.6 C448.5,449.8 450.5,451.0 452.5,452.1 C454.5,453.3 456.5,454.3 458.5,455.3 C460.5,456.3 462.5,457.1 464.5,457.9 C466.5,458.7 468.5,459.5 470.5,460.2 C472.5,460.9 474.5,461.5 476.5,462.0 C478.5,462.6 480.5,463.1 482.5,463.6 C484.5,464.1 486.5,464.6 488.5,465.0 C490.5,465.4 492.5,465.8 494.5,466.2 C496.5,466.6 498.5,467.0 500.5,467.4 C502.5,467.7 504.5,468.1 506.5,468.4 C508.5,468.7 510.5,469.0 512.5,469.3 C514.5,469.5 516.5,469.8 518.5,470.1 C520.5,470.3 522.5,470.5 524.5,470.7 C526.5,471.0 528.5,471.2 530.5,471.4 C532.5,471.5 534.5,471.7 536.5,471.9 C538.5,472.0 540.5,472.1 542.5,472.1 C544.5,472.2 546.5,472.2 548.5,472.1 C550.5,472.0 552.5,471.8 554.5,471.5 C556.5,471.3 558.5,470.9 560.5,470.5 C562.5,470.2 564.5,469.8 566.5,469.6 C568.5,469.3 570.5,469.0 572.5,468.8 C574.5,468.6 576.5,468.5 578.5,468.3 C580.5,468.2 582.5,468.2 584.5,468.1 C586.5,468.1 588.5,468.1 590.5,468.1 C592.5,468.0 594.5,468.0 596.5,467.9 C598.5,467.9 600.5,467.8 602.5,467.7 C604.5,467.7 606.5,467.7 608.5,467.7 C610.5,467.7 612.5,467.8 614.5,467.9 C616.5,468.0 618.5,468.2 620.5,468.4 C622.5,468.6 624.5,468.9 626.5,469.2 C628.5,469.5 630.5,469.8 632.5,470.1 C634.5,470.5 636.5,470.9 638.5,471.3 C640.5,471.7 642.5,472.1 644.5,472.5 C646.5,472.9 648.5,473.4 650.5,473.9 C652.5,474.3 654.5,474.8 656.5,475.4 C658.5,475.9 660.5,476.5 662.5,477.1 C664.5,477.8 666.5,478.5 668.5,479.1 C670.5,479.8 672.5,480.6 674.5,481.3 C676.5,482.0 678.5,482.7 680.5,483.4 C682.5,484.2 684.5,484.9 686.5,485.6 C688.5,486.3 690.5,487.0 692.5,487.7 C694.5,488.5 696.5,489.3 698.5,490.1 C700.5,491.0 702.5,491.9 704.5,492.8 C706.5,493.7 708.5,494.6 710.5,495.6 C712.5,496.5 714.5,497.6 716.5,498.6 C718.5,499.6 720.5,500.6 722.5,501.6 C724.5,502.6 726.5,503.6 728.5,504.5 C730.5,505.5 732.5,506.3 734.5,507.2 C736.5,508.0 738.5,508.9 740.5,509.7 C742.5,510.5 744.5,511.2 746.5,512.0 C748.5,512.7 750.5,513.4 752.5,514.1 C754.5,514.8 756.5,515.5 758.5,516.1 C760.5,516.8 762.5,517.4 764.5,518.0 C766.5,518.6 768.5,519.2 770.5,519.9 C772.5,520.5 774.5,521.1 776.5,521.8 C778.5,522.5 780.5,523.2 782.5,523.8 C784.5,524.5 786.5,525.2 788.5,525.9 C790.5,526.5 792.5,527.2 794.5,527.8 C796.5,528.4 798.5,529.0 800.5,529.6 C802.5,530.2 804.5,530.8 806.5,531.4 C808.5,532.0 810.5,532.6 812.5,533.2 C814.5,533.8 816.5,534.4 818.5,535.1 C820.5,535.8 822.5,536.6 824.5,537.3 C826.5,538.1 828.5,539.0 830.5,539.7 C832.5,540.5 834.5,541.3 836.5,542.0 C838.5,542.7 840.5,543.3 842.5,544.0 C844.5,544.6 846.5,545.2 848.5,545.9 C850.5,546.6 852.5,547.3 854.5,548.0 C856.5,548.8 858.5,549.6 860.5,550.4 C862.5,551.1 864.5,551.9 866.5,552.6 C868.5,553.3 870.5,553.9 872.5,554.5 C874.5,555.1 876.5,555.7 878.5,556.3 C880.5,557.0 882.5,557.6 884.5,558.3 C886.5,558.9 888.5,559.6 890.5,560.3 C892.5,561.1 894.5,561.8 896.5,562.5 C898.5,563.3 900.5,564.0 902.5,564.8 C904.5,565.6 906.5,566.4 908.5,567.2 C910.5,568.0 912.5,568.8 914.5,569.7 C916.5,570.5 918.5,571.4 920.5,572.3 C922.5,573.2 924.5,574.1 926.5,575.0 C928.5,576.0 930.5,576.9 932.5,577.9 C934.5,578.8 936.5,579.8 938.5,580.8 C940.5,581.7 942.5,582.7 944.5,583.7 C946.5,584.6 948.5,585.6 950.5,586.5 C952.5,587.5 954.5,588.4 956.5,589.3 C958.5,590.2 960.5,591.1 962.5,592.0 C964.5,592.9 966.5,593.8 968.5,594.7 C970.5,595.6 972.5,596.5 974.5,597.4 C976.5,598.3 978.5,599.2 980.5,600.1 C982.5,601.0 984.5,601.9 986.5,602.8 C988.5,603.7 990.5,604.7 992.5,605.6 C994.5,606.5 996.5,607.5 998.5,608.4 C1000.5,609.3 1002.5,610.2 1004.5,611.1 C1006.5,612.0 1008.5,613.0 1010.5,613.8 C1012.5,614.7 1014.5,615.5 1016.5,616.3 C1018.5,617.1 1020.5,617.8 1022.5,618.6 C1024.5,619.4 1026.5,620.2 1028.5,621.0 C1030.5,621.8 1032.5,622.7 1034.5,623.5 C1036.5,624.4 1038.5,625.3 1040.5,626.2 C1042.5,627.1 1044.5,628.0 1046.5,628.9 C1048.5,629.9 1050.5,630.9 1052.5,631.8 C1054.5,632.8 1056.5,633.8 1058.5,634.8 C1060.5,635.8 1062.5,636.7 1064.5,637.7 C1066.5,638.7 1068.5,639.7 1070.5,640.7 C1072.5,641.8 1074.5,642.8 1076.5,643.8 C1078.5,644.8 1080.5,645.8 1082.5,646.8 C1084.5,647.7 1086.5,648.7 1088.5,649.6 C1090.5,650.5 1092.5,651.4 1094.5,652.3 C1096.5,653.2 1098.5,654.0 1100.5,654.9 C1102.5,655.7 1104.5,656.5 1106.5,657.4 C1108.5,658.2 1110.5,659.0 1112.5,659.7 C1114.5,660.5 1116.5,661.3 1118.5,662.0 C1120.5,662.7 1122.5,663.4 1124.5,664.1 C1126.5,664.8 1128.5,665.4 1130.5,666.0 C1132.5,666.7 1134.5,667.2 1136.5,667.8 C1138.5,668.3 1140.5,668.8 1142.5,669.3 C1144.5,669.9 1146.5,670.4 1148.5,670.9 C1150.5,671.4 1152.5,671.9 1154.5,672.4 C1156.5,672.9 1158.5,673.5 1160.5,674.1 C1162.5,674.6 1164.5,675.2 1166.5,675.8 C1168.5,676.4 1170.5,676.9 1172.5,677.5 C1174.5,678.0 1176.5,678.5 1178.5,679.0 C1180.5,679.5 1182.5,680.0 1184.5,680.5 C1186.5,681.0 1188.5,681.5 1190.5,682.0 C1192.5,682.4 1194.5,682.9 1196.5,683.3 C1198.5,683.8 1200.5,684.2 1202.5,684.6 C1204.5,685.0 1206.5,685.3 1208.5,685.7 C1210.5,686.0 1212.5,686.3 1214.5,686.7 C1216.5,687.0 1218.5,687.3 1220.5,687.6 C1222.5,687.9 1224.5,688.2 1226.5,688.5 C1228.5,688.8 1230.5,689.1 1232.5,689.5 C1234.5,689.8 1236.5,690.2 1238.5,690.6 C1240.5,691.0 1242.5,691.4 1244.5,691.7 C1246.5,692.1 1248.5,692.4 1250.5,692.7 C1252.5,693.0 1254.5,693.3 1256.5,693.5 C1258.5,693.8 1260.5,694.0 1262.5,694.2 C1264.5,694.5 1266.5,694.6 1268.5,694.9 C1270.5,695.1 1272.5,695.3 1274.5,695.5 C1276.5,695.7 1278.5,695.9 1280.5,696.1 C1282.5,696.4 1284.5,696.6 1286.5,696.9 C1288.5,697.1 1290.5,697.4 1292.5,697.7 C1294.5,698.0 1296.5,698.2 1298.5,698.5 C1300.5,698.7 1302.5,698.9 1304.5,699.2 C1306.5,699.4 1308.5,699.6 1310.5,699.8 C1312.5,700.0 1314.5,700.2 1316.5,700.4 C1318.5,700.6 1320.5,700.8 1322.5,701.0 C1324.5,701.3 1326.5,701.6 1328.5,701.8 C1330.5,702.1 1332.5,702.5 1334.5,702.8 C1336.5,703.1 1339.5,703.6 1340.5,703.8" fill="none" stroke="#ff8000" stroke-width="6.8" stroke-linejoin="round" stroke-linecap="butt"/>
<text class="ax" transform="translate(66.7,380.5) rotate(-90) scale(1,1.035)" text-anchor="middle" style="font-size:60.6px">Absorbance</text>
<text class="ax" transform="translate(780.5,921.7) scale(1,1.035)" text-anchor="middle" style="font-size:62.3px">Wavelength (nm)</text>
<text class="rg" transform="translate(313.5,646.5) scale(1,1.035)" style="font-size:61px">BSA</text>
<line x1="451.7" y1="718.3" x2="411" y2="673" stroke="#000" stroke-width="3.2"/>
<polygon points="389.2,649.2 422.9,666.7 402.1,685.4" fill="#000"/>
<polyline points="1339.5,645.8 1365.6,645.8 1365.6,741.7 1339.5,741.7" fill="none" stroke="#000" stroke-width="3.2"/>
<line x1="1365.6" y1="690.7" x2="1393" y2="690.7" stroke="#000" stroke-width="3.2"/>
<polygon points="1391.3,676.3 1391.3,705.7 1427.9,690.7" fill="#000"/>
<text class="rg" transform="translate(1433,696) scale(1,1.035)" style="font-size:62px">(Increasing</text>
<text class="rg" transform="translate(1594.3,766) scale(1,1.035)" text-anchor="middle" style="font-size:62px">6P+BSA)</text>
</svg>
</body></html>
